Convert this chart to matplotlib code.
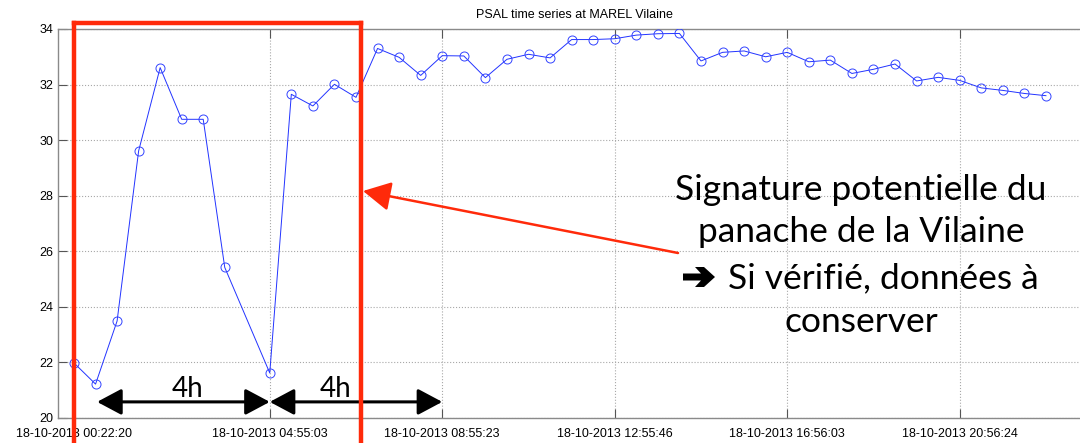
import matplotlib
matplotlib.use("Agg")
import matplotlib.pyplot as plt
import matplotlib.dates as mdates
import pandas as pd
from matplotlib.patches import FancyArrowPatch, Polygon
from matplotlib.lines import Line2D

# ---------------- data ----------------
day = "2013-10-18 "
times = ["00:22:20", "00:52:20", "01:22:20", "01:52:20", "02:22:20", "02:52:20",
         "03:22:20", "03:52:20", "04:55:03", "05:25:05", "05:55:08", "06:25:10",
         "06:55:13", "07:25:15", "07:55:18", "08:25:20", "08:55:23", "09:25:26",
         "09:55:29", "10:25:32", "10:55:35", "11:25:38", "11:55:41", "12:25:43",
         "12:55:46", "13:25:48", "13:55:50", "14:25:52", "14:55:54", "15:25:57",
         "15:55:59", "16:26:01", "16:56:03", "17:26:06", "17:56:08", "18:26:11",
         "18:56:13", "19:26:16", "19:56:18", "20:26:21", "20:56:24", "21:26:26",
         "21:56:28", "22:26:30", "22:56:32"]
psal = [21.98, 21.22, 23.49, 29.61, 32.61, 30.75, 30.75, 25.42, 21.62, 31.65,
        31.23, 32.01, 31.54, 33.30, 32.98, 32.33, 33.04, 33.03, 32.25, 32.91,
        33.09, 32.96, 33.62, 33.62, 33.65, 33.78, 33.83, 33.84, 32.85, 33.16,
        33.21, 33.00, 33.16, 32.82, 32.88, 32.40, 32.55, 32.74, 32.13, 32.26,
        32.15, 31.88, 31.79, 31.68, 31.60]
tick_times = ["00:22:20", "04:55:03", "08:55:23", "12:55:46", "16:56:03", "20:56:24"]
yticks = [20, 22, 24, 26, 28, 30, 32, 34]
title = "PSAL time series at MAREL Vilaine"
note_lines = ["Signature potentielle du", "panache de la Vilaine",
              "Si vérifié, données à", "conserver"]
arrow_span1 = ["00:54:30", "04:55:03"]
arrow_span2 = ["04:55:03", "08:55:23"]

t = pd.to_datetime([day + s for s in times])
tt = pd.to_datetime([day + s for s in tick_times])

W, H = 1080, 443
fig = plt.figure(figsize=(W / 100, H / 100), dpi=100)
fig.patch.set_facecolor("white")

def fx(x):
    return x / W

def fy(y):
    return 1 - y / H

ax = fig.add_axes([fx(58), fy(418), (1091.5 - 58) / W, (418 - 29) / H])
ax.plot(t, psal, color="#2233ff", lw=0.7, marker="o", ms=6.5, mfc="none",
        mec="#3344ff", mew=0.7, zorder=3)

ax.set_xlim(pd.Timestamp(day + "00:00:00"), pd.Timestamp("2013-10-19 00:00:00"))
ax.set_ylim(20, 34)
ax.set_xticks(tt)
ax.xaxis.set_major_formatter(mdates.DateFormatter("%d-%m-%Y %H:%M:%S"))
ax.set_yticks(yticks)
ax.grid(True, linestyle=":", color="#a8a8a8", lw=0.8)
for s in ["left", "bottom", "top", "right"]:
    ax.spines[s].set_color("#8a8a8a")
    ax.spines[s].set_linewidth(1.0)
ax.tick_params(direction="in", length=6.5, width=0.8, color="#555555",
               top=True, right=True, labelsize=9)
ax.tick_params(axis="x", pad=7)
ax.tick_params(axis="y", pad=3.5)
for lab in ax.get_xticklabels() + ax.get_yticklabels():
    lab.set_family("Liberation Sans")
ax.set_title(title, fontsize=9, family="Liberation Sans", pad=8)

# black double arrows (4h spans)
ya = 20.58
for span in (arrow_span1, arrow_span2):
    a, b = pd.to_datetime([day + s for s in span])
    ax.annotate("", xy=(mdates.date2num(b), ya), xytext=(mdates.date2num(a), ya),
                arrowprops=dict(arrowstyle="<|-|>,head_length=0.75,head_width=0.4",
                                color="black", lw=2.2, mutation_scale=20,
                                shrinkA=0, shrinkB=0),
                annotation_clip=False, zorder=5)

fig.text(fx(188), fy(397), "4h", fontsize=20, family="Lato", ha="center",
         va="baseline")
fig.text(fx(336), fy(397), "4h", fontsize=20, family="Lato", ha="center",
         va="baseline")

# red rectangle
red = "#ff2a0a"
fig.add_artist(Line2D([fx(74), fx(74)], [fy(23), fy(450)], color=red, lw=3.2,
                      solid_capstyle="projecting"))
fig.add_artist(Line2D([fx(361), fx(361)], [fy(23), fy(450)], color=red, lw=3.2,
                      solid_capstyle="projecting"))
fig.add_artist(Line2D([fx(74), fx(361)], [fy(23), fy(23)], color=red, lw=3.2,
                      solid_capstyle="projecting"))

# red arrow
arr = FancyArrowPatch((fx(678), fy(253)), (fx(363), fy(191)),
                      transform=fig.transFigure,
                      arrowstyle="-|>,head_length=0.85,head_width=0.45",
                      mutation_scale=20, color=red, lw=1.8, shrinkA=0, shrinkB=0)
fig.add_artist(arr)

# annotation text
fs = 25.5
fig.text(fx(861), fy(200), note_lines[0], fontsize=fs, family="Lato",
         ha="center", va="baseline")
fig.text(fx(861), fy(242), note_lines[1], fontsize=fs, family="Lato",
         ha="center", va="baseline")
fig.text(fx(728), fy(288), note_lines[2], fontsize=fs, family="Lato",
         ha="left", va="baseline")
fig.text(fx(861), fy(332), note_lines[3], fontsize=fs, family="Lato",
         ha="center", va="baseline")

# heavy bullet arrow (➔) before line 3
arrow_pts = [(683, 273.5), (701, 273.5), (695, 267), (704, 267), (715, 277),
             (704, 287), (695, 287), (701, 280.5), (683, 280.5)]
fig.add_artist(Polygon([(fx(x), fy(y)) for x, y in arrow_pts], closed=True,
                       transform=fig.transFigure, facecolor="black",
                       edgecolor="none"))

fig.savefig("out.png", dpi=100)
